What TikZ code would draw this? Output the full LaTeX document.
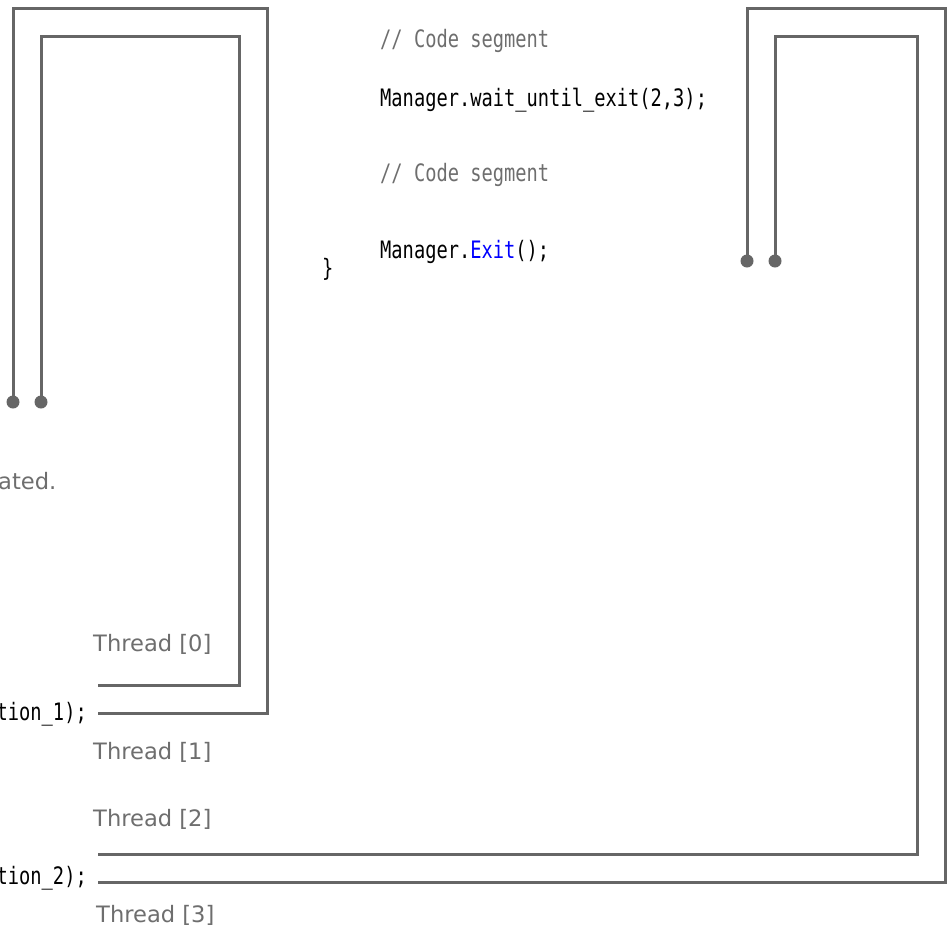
\documentclass[tikz,border=0pt]{standalone}
\usepackage{fontspec}
\setmainfont{DejaVu Sans}
\newfontfamily\codefont[FakeStretch=0.78]{DejaVu Sans Mono}
\definecolor{linegray}{HTML}{666666}
\definecolor{txtgray}{HTML}{6E6E6E}
\definecolor{kwblue}{HTML}{0000FF}
\begin{document}
\begin{tikzpicture}[x=1pt,y=-1pt,
  wire/.style={draw=linegray,line width=3pt,line join=miter},
  dot/.style={circle,fill=linegray,inner sep=0pt,minimum size=13pt},
  lbl/.style={text=txtgray,font=\fontsize{22.6}{23}\selectfont,inner sep=0pt,anchor=base west},
  code/.style={font=\codefont\fontsize{24}{24}\selectfont,inner sep=0pt,anchor=base west},
  cmt/.style={code,text=txtgray}]
\useasboundingbox (0,0) rectangle (949,932);
\clip (0,0) rectangle (949,932);
% dots and free ends
\coordinate (d0) at (13,402);
\coordinate (d1) at (41,402);
\coordinate (d2) at (747,261);
\coordinate (d3) at (775,261);
\coordinate (e0) at (98,713);
\coordinate (e1) at (98,685);
\coordinate (e2) at (98,882);
\coordinate (e3) at (98,854);
% wires
\draw[wire] (d0) -- (13,8) -- (267,8) -- (267,713) -- (e0);
\draw[wire] (d1) -- (41,36) -- (239,36) -- (239,685) -- (e1);
\draw[wire] (d2) -- (747,8) -- (945,8) -- (945,882) -- (e2);
\draw[wire] (d3) -- (775,36) -- (917,36) -- (917,854) -- (e3);
\node[dot] (n0) at (d0) {};
\node[dot] (n1) at (d1) {};
\node[dot] (n2) at (d2) {};
\node[dot] (n3) at (d3) {};
% code
\node[cmt] (c1) at (380,47) {// Code segment};
\node[code] (c2) at (380,106) {Manager.wait\_until\_exit(2,3);};
\node[cmt] (c3) at (380,181) {// Code segment};
\node[code] (c4) at (380,258) {Manager.\textcolor{kwblue}{Exit}();};
\node[code] (c5) at (322,276) {\}};
\node[code,anchor=base east] (c6) at (87,720) {tion\_1);};
\node[code,anchor=base east] (c7) at (87,884) {tion\_2);};
% labels
\node[lbl] (a0) at (-2,489) {ated.};
\node[lbl] (t0) at (93,651) {Thread [0]};
\node[lbl] (t1) at (93,759) {Thread [1]};
\node[lbl] (t2) at (93,826) {Thread [2]};
\node[lbl] (t3) at (96,922) {Thread [3]};
\end{tikzpicture}
\end{document}
